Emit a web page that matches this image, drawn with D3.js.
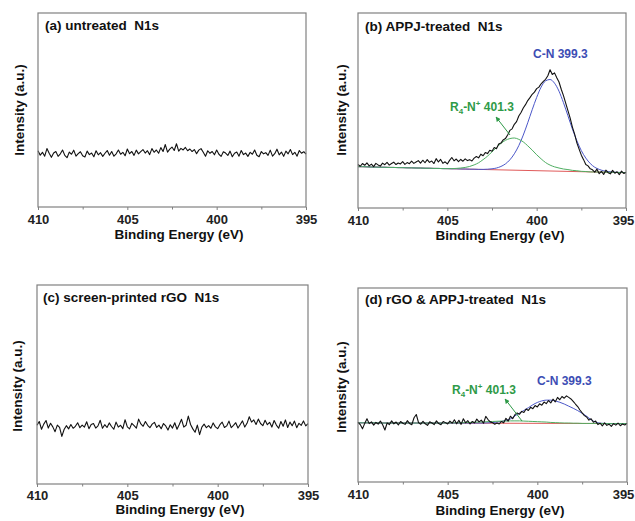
<!DOCTYPE html>
<html><head><meta charset="utf-8">
<script src="https://cdn.jsdelivr.net/npm/d3@7"></script>
<style>body{margin:0;background:#fff}</style>
</head><body>
<svg id="c" width="635" height="521"></svg>
<script>
// ---------- data ----------
const xTicks = [410, 405, 400, 395];
const xMinorTicks = [407.5, 402.5, 397.5];
const panelTitles = ["(a) untreated  N1s", "(b) APPJ-treated  N1s", "(c) screen-printed rGO  N1s", "(d) rGO & APPJ-treated  N1s"];
const xLabel = "Binding Energy (eV)";
const yLabel = "Intensity (a.u.)";
const dataStart = 410, dataEnd = 395, dataStep = 0.125;   // sampling grid of spectra
const fitStep = 0.25;                                       // sampling grid of fit components

const untreated = [29.0,26.7,28.2,26.2,30.1,27.7,25.6,27.8,28.6,26.1,27.4,29.4,26.6,25.4,28.3,27.2,29.3,26.2,27.5,28.5,
26.4,25.8,28.8,27.0,27.8,25.9,29.0,26.9,28.0,26.1,27.7,29.1,26.7,28.6,26.2,27.4,29.4,27.2,28.2,26.4,
29.9,27.5,28.6,26.6,29.3,27.4,28.5,29.6,27.8,29.0,27.0,30.1,28.2,29.4,27.7,30.6,28.6,32.2,28.3,29.8,
30.9,29.1,32.6,28.8,30.2,29.4,30.7,29.0,29.9,28.6,29.6,27.5,29.3,30.1,28.2,26.2,29.0,27.7,28.6,26.9,
29.4,27.2,26.1,28.5,27.8,26.6,28.8,25.9,27.7,28.3,26.2,29.1,27.0,27.8,26.1,28.2,27.2,29.4,26.7,25.9,
28.6,27.4,28.0,26.6,29.3,26.2,27.5,29.8,26.9,28.3,26.1,28.8,27.4,29.6,27.0,28.2,26.2,29.1,27.7,28.5,27.2];

const appj = [22.3,21.4,22.8,21.9,23.1,21.6,22.5,21.2,22.9,22.1,21.5,23.0,22.2,23.4,22.0,22.8,23.5,22.3,23.1,22.6,
23.8,22.4,23.3,22.7,24.0,22.9,23.6,24.3,23.0,24.5,23.2,24.8,23.4,24.1,22.8,25.3,23.6,24.9,22.9,23.7,
22.6,24.4,25.9,24.2,25.1,23.8,24.9,24.0,25.2,24.3,24.8,24.1,25.6,26.4,25.7,27.6,26.8,28.4,27.9,29.6,
29.1,31.0,30.4,32.8,33.3,34.9,35.6,37.4,39.8,40.6,42.9,44.3,47.2,49.0,51.3,53.0,55.1,56.6,58.3,59.4,
61.2,62.0,63.7,64.9,66.0,67.8,70.9,68.5,69.3,66.8,64.6,60.9,57.6,53.8,49.9,46.1,41.5,37.9,33.4,30.2,
27.1,24.8,22.3,21.6,20.1,19.6,18.4,19.9,17.6,18.8,17.2,19.4,18.1,17.5,19.3,17.8,18.6,17.1,18.9,17.7,18.3];

const rgo = [29.5,31.4,27.5,30.1,31.9,28.1,30.5,28.7,26.3,29.6,28.4,23.9,27.4,29.3,27.7,29.9,28.0,29.0,30.8,28.3,
29.6,28.6,31.3,27.8,29.9,30.4,28.1,29.2,32.0,28.0,29.8,28.4,30.7,28.9,27.5,31.1,28.6,29.5,27.8,32.3,
28.7,27.7,30.5,29.3,28.1,32.6,30.2,29.0,31.4,29.5,28.3,30.1,31.0,28.4,29.6,27.8,30.4,29.2,27.1,29.8,
28.1,30.8,27.5,29.9,32.5,28.6,29.5,34.1,29.9,27.7,26.0,29.6,24.8,28.6,30.1,28.3,29.3,28.0,30.7,28.7,
27.8,29.8,31.1,28.4,29.2,31.6,28.3,29.5,30.8,28.1,29.9,31.7,28.6,30.5,33.8,31.1,32.2,29.9,32.6,30.4,
29.3,32.0,29.8,31.0,28.6,31.9,29.6,28.0,31.4,29.0,32.2,28.4,31.1,29.3,31.6,28.3,30.5,29.5,31.7,29.2,30.4];

const rgoAppj = [30.8,29.6,27.4,30.2,32.6,30.1,31.0,29.3,30.7,29.8,31.4,29.5,26.8,30.4,29.6,31.5,30.0,30.9,29.4,31.2,
30.3,29.7,31.6,30.2,29.5,33.1,34.8,30.6,29.8,31.3,30.0,29.2,31.0,30.4,29.6,31.5,30.1,29.5,31.2,30.6,
29.9,31.4,30.3,32.1,30.0,31.8,29.7,32.6,30.5,31.6,29.9,31.2,30.4,32.4,31.0,31.9,30.3,33.8,32.2,31.0,
30.6,29.8,30.4,29.9,31.2,30.5,32.8,31.4,33.9,32.6,34.7,35.6,34.9,36.4,35.8,37.6,36.9,38.5,37.8,39.4,
38.7,40.3,39.6,41.2,40.4,42.0,40.8,42.7,41.3,43.6,42.4,44.1,43.2,44.4,43.6,42.8,41.6,40.2,38.9,37.1,
35.6,34.2,33.5,31.9,32.6,30.8,31.4,29.6,30.3,28.9,30.5,29.2,29.8,28.7,30.1,29.3,30.4,29.0,29.9,29.4,30.2];

// fit components (410 -> 395, step 0.25)
const appjCN = [21.2,21.2,21.1,21.0,21.0,20.9,20.9,20.8,20.8,20.7,20.7,20.6,20.6,20.5,20.5,20.4,20.4,20.3,20.3,20.2,
20.2,20.1,20.1,20.0,20.0,19.9,19.9,19.8,
19.8,19.9,20.1,20.5,21.3,22.6,24.7,27.8,32.0,37.4,43.7,50.4,56.7,62.0,65.2,65.9,64.0,59.9,54.0,47.3,
40.5,34.5,29.4,25.6,22.8,20.9,19.8,19.1,18.7,18.4,18.3,18.2,18.1];
const appjR4N = [21.2,21.2,21.1,21.0,21.0,20.9,20.9,20.8,20.8,20.7,20.7,20.6,20.6,20.5,20.5,20.4,20.4,20.3,20.3,20.2,
20.2,20.2,
20.3,20.5,20.8,21.3,22.1,23.2,24.8,26.6,28.8,31.0,33.1,34.7,35.6,35.9,35.2,33.9,31.9,29.7,27.3,25.2,
23.3,22.0,21.1,20.5,20.0,19.7,19.3,19.1,18.8,18.7,18.5,18.5,18.4,18.4,18.3,18.3,18.2,18.2,18.1];
const appjBaseline = [21.2, 18.1];   // at 410 and 395

const rgoAppjCN = [30.5,30.5,30.5,30.5,30.5,30.4,30.4,30.4,30.4,30.4,30.4,30.4,30.4,30.4,30.4,30.4,30.4,30.4,30.4,30.4,
30.4,30.4,30.4,30.4,30.4,30.4,30.4,30.4,
30.4,30.5,30.6,30.9,31.2,31.8,32.5,34.1,35.5,36.9,38.3,39.8,41.0,41.8,42.2,42.2,41.8,41.1,40.2,39.1,
38.0,36.8,35.4,33.9,32.1,30.9,30.3,30.2,30.1,30.1,30.1,30.1,30.1];
const rgoAppjR4N = [30.5,30.5,30.5,30.5,30.5,30.4,30.4,30.4,30.4,30.4,30.4,30.4,30.4,30.4,30.4,30.4,30.4,30.4,30.4,30.4,
30.4,30.5,30.5,30.5,30.6,30.7,30.8,30.9,31.0,31.1,31.2,31.3,31.4,31.4,31.5,31.5,31.5,31.4,31.3,31.2,
31.1,31.0,30.9,30.7,30.6,30.5,30.4,30.4,30.3,30.3,30.2,30.2,30.2,30.2,30.2,30.1,30.1,30.1,30.1,30.1,30.1];
const rgoAppjBaseline = [30.5, 30.1];

// ---------- layout ----------
const svg = d3.select("#c");
const FONT = "'Liberation Sans', Arial, sans-serif";
const C = {frame:"#808080", blue:"#4b57c9", green:"#4fae62", red:"#e05a5a", blueText:"#3d4db4", greenText:"#2f9a48"};

const panels = [
  {x0:38, x1:306, y0:13, y1:207, data:untreated, title:[45,30], tick:224, xl:[179,239], yl:[24,110], edge:0},
  {x0:358, x1:626, y0:13, y1:208, data:appj, title:[365,31], tick:225, xl:[500,240], yl:[346,110], edge:-3,
   fits:{cn:appjCN, r4:appjR4N, base:appjBaseline},
   ann:{cn:[533,58], r4:[450,111], arrow:[510,135,496,117]}},
  {x0:37, x1:308, y0:285, y1:484, data:rgo, title:[43,302], tick:500, xl:[180,514], yl:[22,386], edge:0},
  {x0:358, x1:627, y0:288, y1:482, data:rgoAppj, title:[365,304], tick:499, xl:[500,515], yl:[346,387], edge:-4,
   fits:{cn:rgoAppjCN, r4:rgoAppjR4N, base:rgoAppjBaseline},
   ann:{cn:[537,385], r4:[452,394], arrow:[522,421,505,399]}}
];

const defs = svg.append("defs");
defs.append("marker").attr("id","ah").attr("viewBox","0 0 10 10").attr("refX",9).attr("refY",5)
  .attr("markerWidth",5).attr("markerHeight",5).attr("orient","auto")
  .append("path").attr("d","M0,0L10,5L0,10z").attr("fill",C.greenText);

panels.forEach((p,i)=>{
  const x = d3.scaleLinear().domain([410,395]).range([p.x0,p.x1]);
  const y = d3.scaleLinear().domain([0,100]).range([p.y1,p.y0]);
  const g = svg.append("g");

  const dataE = d3.range(p.data.length).map(k=>dataStart - k*dataStep);
  const line = d3.line().x(d=>x(d[0])).y(d=>y(d[1]));

  if (p.fits){
    const fitE = d3.range(p.fits.cn.length).map(k=>dataStart - k*fitStep);
    g.append("path").datum([[410,p.fits.base[0]],[395,p.fits.base[1]]]).attr("d",line)
      .attr("fill","none").attr("stroke",C.red).attr("stroke-width",1);
    const sm = d3.line().x(d=>x(d[0])).y(d=>y(d[1])).curve(d3.curveMonotoneX);
    g.append("path").datum(fitE.map((e,k)=>[e,p.fits.cn[k]])).attr("d",sm)
      .attr("fill","none").attr("stroke",C.blue).attr("stroke-width",1);
    g.append("path").datum(fitE.map((e,k)=>[e,p.fits.r4[k]])).attr("d",sm)
      .attr("fill","none").attr("stroke",C.green).attr("stroke-width",1);
  }

  g.append("path").datum(dataE.map((e,k)=>[e,p.data[k]])).attr("d",line)
    .attr("fill","none").attr("stroke","#111").attr("stroke-width",1.1).attr("stroke-linejoin","round");

  // frame
  g.append("rect").attr("x",p.x0).attr("y",p.y0).attr("width",p.x1-p.x0).attr("height",p.y1-p.y0)
    .attr("fill","none").attr("stroke",C.frame).attr("stroke-width",1.2);

  // ticks
  const ax = g.append("g").attr("transform",`translate(0,${p.y1})`)
    .call(d3.axisBottom(x).tickValues(xTicks).tickSize(3).tickPadding(0).tickFormat(d3.format("d")));
  ax.select(".domain").remove();
  ax.selectAll(".tick line").attr("stroke",C.frame);
  ax.selectAll(".tick text").attr("y",p.tick-p.y1).attr("dy",null).attr("font-family",FONT)
    .attr("font-size",13).attr("font-weight","bold").attr("fill","#222")
    .attr("x",d=>d===395?p.edge:0);
  const mx = g.append("g").attr("transform",`translate(0,${p.y1})`)
    .call(d3.axisBottom(x).tickValues(xMinorTicks).tickSize(2.5).tickFormat(""));
  mx.select(".domain").remove();
  mx.selectAll(".tick line").attr("stroke",C.frame);

  // texts
  g.append("text").attr("x",p.title[0]).attr("y",p.title[1]).text(panelTitles[i])
    .attr("font-family",FONT).attr("font-size",13.5).attr("font-weight","bold").attr("fill","#111")
    .style("white-space","pre");
  g.append("text").attr("x",p.xl[0]).attr("y",p.xl[1]).attr("text-anchor","middle").text(xLabel)
    .attr("font-family",FONT).attr("font-size",13.5).attr("font-weight","bold").attr("fill","#111");
  g.append("text").attr("transform",`translate(${p.yl[0]},${p.yl[1]}) rotate(-90)`).attr("text-anchor","middle")
    .text(yLabel).attr("font-family",FONT).attr("font-size",13.5).attr("font-weight","bold").attr("fill","#111");

  if (p.ann){
    g.append("text").attr("x",p.ann.cn[0]).attr("y",p.ann.cn[1]).text("C-N 399.3")
      .attr("font-family",FONT).attr("font-size",12).attr("font-weight","bold").attr("fill",C.blueText);
    const t = g.append("text").attr("x",p.ann.r4[0]).attr("y",p.ann.r4[1])
      .attr("font-family",FONT).attr("font-size",12).attr("font-weight","bold").attr("fill",C.greenText);
    t.append("tspan").text("R");
    t.append("tspan").text("4").attr("font-size",8).attr("dy",3);
    t.append("tspan").text("-N").attr("dy",-3);
    t.append("tspan").text("+").attr("font-size",8).attr("dy",-5);
    t.append("tspan").text(" 401.3").attr("dy",5);
    const a = p.ann.arrow;
    g.append("line").attr("x1",a[0]).attr("y1",a[1]).attr("x2",a[2]).attr("y2",a[3])
      .attr("stroke",C.greenText).attr("stroke-width",1).attr("marker-end","url(#ah)");
  }
});
</script>
</body></html>
